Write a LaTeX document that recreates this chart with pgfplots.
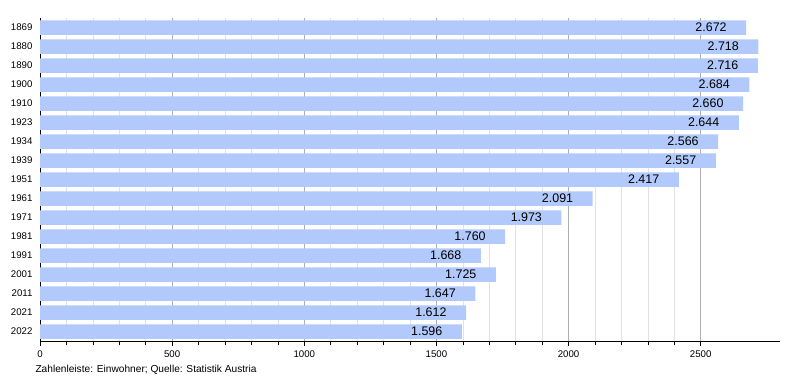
\documentclass[border=0pt]{standalone}
\usepackage{pgfplots}
\pgfplotsset{compat=1.18}
\usepackage{fontspec}
\setmainfont{Liberation Sans}
\definecolor{barblue}{RGB}{178,201,251}
\definecolor{majgrid}{RGB}{175,175,175}
\definecolor{mingrid}{RGB}{226,226,226}
\begin{document}
\begin{tikzpicture}
\useasboundingbox (-40bp,-39bp) rectangle (760bp,341bp);
\begin{axis}[
  scale only axis,
  width=740bp, height=323bp,
  at={(0,0)}, anchor=south west,
  xbar, bar width=14.5bp,
  xmin=0, xmax=2800,
  ymin=-0.5, ymax=16.5, y dir=reverse,
  ytick={0,...,16},
  yticklabels={1869,1880,1890,1900,1910,1923,1934,1939,1951,1961,1971,1981,1991,2001,2011,2021,2022},
  xtick={0,500,1000,1500,2000,2500},
  minor x tick num=4,
  axis x line=bottom, axis y line=left,
  axis line style={-, black, line width=0.8bp},
  tick align=outside,
  major tick length=5bp, minor tick length=4bp,
  xtick style={black, line width=0.6bp},
  ytick style={draw=none},
  xmajorgrids, xminorgrids,
  major grid style={majgrid, line width=0.6bp},
  minor grid style={mingrid, line width=0.6bp},
  /pgf/number format/assume math mode=true,
  /pgf/number format/1000 sep={},
  ticklabel style={font=\fontsize{9.7}{11}\selectfont},
  yticklabel style={xshift=1bp},
  xticklabel style={yshift=-1bp},
  point meta=x,
  nodes near coords={\pgfmathprintnumber[1000 sep={.}]{\pgfplotspointmeta}},
  every node near coord/.append style={anchor=east, xshift=-16bp, font=\fontsize{12.5}{14}\selectfont, text=black},
  clip=false,
]
\addplot[fill=barblue, draw=none] coordinates {
(2672,0) (2718,1) (2716,2) (2684,3) (2660,4) (2644,5) (2566,6) (2557,7) (2417,8)
(2091,9) (1973,10) (1760,11) (1668,12) (1725,13) (1647,14) (1612,15) (1596,16)
};
\end{axis}
\node[anchor=west, font=\fontsize{10.2}{12}\selectfont] at (-8bp,-29bp) {Zahlenleiste: Einwohner; Quelle: Statistik Austria};
\end{tikzpicture}
\end{document}
